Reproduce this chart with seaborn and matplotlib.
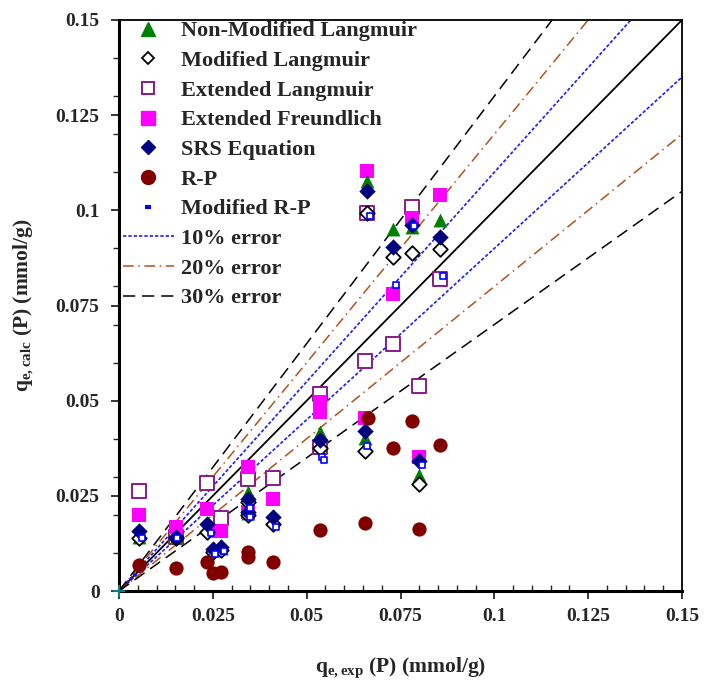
import numpy as np
import pandas as pd
import matplotlib
matplotlib.use("Agg")
import matplotlib.pyplot as plt
import seaborn as sns
from matplotlib.lines import Line2D
from matplotlib.ticker import MultipleLocator, FixedFormatter, FixedLocator

# ---------------- data ----------------
nml_x = [0.0053, 0.0153, 0.0235, 0.0250, 0.0272, 0.0344, 0.0344, 0.0410, 0.0535, 0.0535, 0.0655, 0.0660, 0.0730, 0.0780, 0.0800, 0.0855]
nml_y = [0.0143, 0.0143, 0.0168, 0.0108, 0.0112, 0.0261, 0.0205, 0.0190, 0.0419, 0.0385, 0.0403, 0.1078, 0.0950, 0.0955, 0.0306, 0.0975]

ml_x = [0.0053, 0.0153, 0.0235, 0.0250, 0.0272, 0.0344, 0.0344, 0.0410, 0.0535, 0.0655, 0.0660, 0.0730, 0.0780, 0.0800, 0.0855]
ml_y = [0.0139, 0.0140, 0.0156, 0.0103, 0.0108, 0.0235, 0.0200, 0.0176, 0.0375, 0.0368, 0.0994, 0.0878, 0.0889, 0.0280, 0.0898]

el_x = [0.0053, 0.0153, 0.0235, 0.0272, 0.0344, 0.0410, 0.0535, 0.0535, 0.0655, 0.0660, 0.0730, 0.0780, 0.0800, 0.0855]
el_y = [0.0263, 0.0143, 0.0285, 0.0191, 0.0294, 0.0296, 0.0517, 0.0379, 0.0605, 0.0994, 0.0649, 0.1008, 0.0538, 0.0819]

ef_x = [0.0053, 0.0153, 0.0235, 0.0250, 0.0272, 0.0344, 0.0344, 0.0410, 0.0535, 0.0535, 0.0655, 0.0660, 0.0730, 0.0780, 0.0800, 0.0855]
ef_y = [0.0200, 0.0167, 0.0215, 0.0158, 0.0158, 0.0327, 0.0208, 0.0241, 0.0497, 0.0471, 0.0454, 0.1104, 0.0780, 0.0979, 0.0353, 0.1040]

srs_x = [0.0053, 0.0153, 0.0235, 0.0250, 0.0272, 0.0344, 0.0344, 0.0410, 0.0535, 0.0655, 0.0660, 0.0730, 0.0780, 0.0800, 0.0855]
srs_y = [0.0158, 0.0143, 0.0176, 0.0110, 0.0116, 0.0241, 0.0208, 0.0194, 0.0397, 0.0421, 0.1051, 0.0904, 0.0961, 0.0342, 0.0929]

rp_x = [0.0053, 0.0153, 0.0235, 0.0250, 0.0272, 0.0344, 0.0344, 0.0410, 0.0535, 0.0655, 0.0664, 0.0730, 0.0780, 0.0800, 0.0855]
rp_y = [0.0068, 0.0061, 0.0075, 0.0048, 0.0051, 0.0103, 0.0090, 0.0075, 0.0160, 0.0179, 0.0454, 0.0375, 0.0447, 0.0162, 0.0383]

mrp_x = [0.0060, 0.0155, 0.0245, 0.0255, 0.0280, 0.0350, 0.0350, 0.0418, 0.0540, 0.0545, 0.0662, 0.0668, 0.0738, 0.0787, 0.0807, 0.0862]
mrp_y = [0.0139, 0.0140, 0.0153, 0.0097, 0.0105, 0.0217, 0.0194, 0.0169, 0.0353, 0.0344, 0.0381, 0.0985, 0.0804, 0.0960, 0.0331, 0.0827]

origin_x = [0.0]
origin_y = [0.0]

line_factors = [1.0, 1.1, 0.9, 1.2, 0.8, 1.3, 0.7]
line_x = [0.0, 0.15]

x_ticks = [0, 0.025, 0.05, 0.075, 0.1, 0.125, 0.15]
x_tick_labels = ["0", "0.025", "0.05", "0.075", "0.1", "0.125", "0.15"]
y_ticks = [0, 0.025, 0.05, 0.075, 0.1, 0.125, 0.15]
y_tick_labels = ["0", "0.025", "0.05", "0.075", "0.1", "0.125", "0.15"]

legend_labels = ["Non-Modified Langmuir", "Modified Langmuir", "Extended Langmuir",
                 "Extended Freundlich", "SRS Equation", "R-P", "Modified R-P",
                 "10% error", "20% error", "30% error"]

# ---------------- style ----------------
sns.set_style("white")
plt.rcParams["font.family"] = ["Liberation Serif", "DejaVu Serif"]
plt.rcParams["font.weight"] = "bold"
plt.rcParams["mathtext.fontset"] = "custom"
plt.rcParams["mathtext.rm"] = "Liberation Serif:bold"
plt.rcParams["mathtext.it"] = "Liberation Serif:bold"
plt.rcParams["mathtext.bf"] = "Liberation Serif:bold"

fig = plt.figure(figsize=(7.05, 6.88), dpi=100)
ax = fig.add_axes([119 / 705, 1 - 591 / 688, (682 - 119) / 705, (591 - 20) / 688])

# reference lines
c_blue = "#1a1aff"
c_brown = "#b5501e"
line_styles = {
    1.0: dict(color="black", lw=1.3, ls="-"),
    1.1: dict(color=c_blue, lw=1.2, ls=(0, (2, 1.2))),
    0.9: dict(color=c_blue, lw=1.2, ls=(0, (2, 1.2))),
    1.2: dict(color=c_brown, lw=1.1, ls=(0, (7, 3, 1, 3))),
    0.8: dict(color=c_brown, lw=1.1, ls=(0, (7, 3, 1, 3))),
    1.3: dict(color="black", lw=1.1, ls=(0, (8, 4.5))),
    0.7: dict(color="black", lw=1.1, ls=(0, (8, 4.5))),
}
for f in line_factors:
    df_l = pd.DataFrame({"x": line_x, "y": [f * v for v in line_x]})
    st = line_styles[f]
    sns.lineplot(data=df_l, x="x", y="y", ax=ax, color=st["color"], lw=st["lw"],
                 linestyle=st["ls"], legend=False)

ms = 100
def scat(xs, ys, **kw):
    sns.scatterplot(x=xs, y=ys, ax=ax, legend=False, zorder=3, **kw)

scat(el_x, el_y, marker="s", s=ms * 0.95, facecolor="white", edgecolor="#8b1a8b", linewidth=1.4)
scat(ef_x, ef_y, marker="s", s=ms, color="#ff00ff", edgecolor="#ff00ff", linewidth=0)
scat(nml_x, nml_y, marker="^", s=ms, color="#008000", edgecolor="#008000", linewidth=0)
scat(ml_x, ml_y, marker="D", s=ms * 0.55, facecolor="white", edgecolor="black", linewidth=1.3)
scat(srs_x, srs_y, marker="D", s=ms * 0.7, color="#000080", edgecolor="#000080", linewidth=0)
scat(rp_x, rp_y, marker="o", s=ms * 1.05, color="#800000", edgecolor="#800000", linewidth=0)
scat(mrp_x, mrp_y, marker="s", s=16, facecolor="white", edgecolor="#0000ff", linewidth=1.2)
scat(origin_x, origin_y, marker="+", s=70, color="#008080", linewidth=1.5, clip_on=False)

ax.set_xlim(0, 0.15)
ax.set_ylim(0, 0.15)

# ticks
ax.xaxis.set_major_locator(FixedLocator(x_ticks))
ax.xaxis.set_major_formatter(FixedFormatter(x_tick_labels))
ax.yaxis.set_major_locator(FixedLocator(y_ticks))
ax.yaxis.set_major_formatter(FixedFormatter(y_tick_labels))
ax.xaxis.set_minor_locator(MultipleLocator(0.005))
ax.yaxis.set_minor_locator(MultipleLocator(0.01))
ax.tick_params(axis="x", which="major", direction="out", length=6, width=1.3, labelsize=14, pad=6)
ax.tick_params(axis="x", which="minor", direction="in", length=4, width=1.0)
ax.tick_params(axis="y", which="major", direction="out", length=6, width=1.3, labelsize=14, pad=8)
ax.tick_params(axis="y", which="minor", direction="out", length=4, width=1.0)
ax.tick_params(bottom=True, left=True, top=False, right=False, which="both")
for lab in ax.get_xticklabels() + ax.get_yticklabels():
    lab.set_fontweight("bold")

for side, w in [("left", 2.2), ("bottom", 2.2), ("top", 1.3), ("right", 1.3)]:
    ax.spines[side].set_visible(True)
    ax.spines[side].set_linewidth(w)
    ax.spines[side].set_color("black")

ax.set_xlabel(r"$\mathregular{q_{e,exp}}$ (P) (mmol/g)", fontsize=15.5, fontweight="bold", labelpad=22)
ax.set_ylabel(r"$\mathregular{q_{e,calc}}$ (P) (mmol/g)", fontsize=15.5, fontweight="bold", labelpad=14)

# legend
handles = [
    Line2D([], [], ls="none", marker="^", ms=10, color="#008000", mec="#008000"),
    Line2D([], [], ls="none", marker="D", ms=6.5, mfc="white", mec="black", mew=1.3),
    Line2D([], [], ls="none", marker="s", ms=9, mfc="white", mec="#8b1a8b", mew=1.4),
    Line2D([], [], ls="none", marker="s", ms=9.5, color="#ff00ff"),
    Line2D([], [], ls="none", marker="D", ms=7.5, color="#000080"),
    Line2D([], [], ls="none", marker="o", ms=10, color="#800000"),
    Line2D([], [], ls="none", marker="_", ms=5, mew=3, color="#0000ff"),
    Line2D([], [], color=c_blue, lw=1.2, ls=(0, (2, 1.2))),
    Line2D([], [], color=c_brown, lw=1.1, ls=(0, (7, 3, 1, 3))),
    Line2D([], [], color="black", lw=1.1, ls=(0, (8, 4.5))),
]
leg = ax.legend(handles, legend_labels, loc="upper left", frameon=False,
                prop={"family": "Liberation Serif", "weight": "bold", "size": 16},
                handlelength=2.3, handletextpad=0.3, labelspacing=0.41,
                borderaxespad=0.0, bbox_to_anchor=(-0.009, 1.014), numpoints=1)

fig.savefig("out.png", dpi=100)
